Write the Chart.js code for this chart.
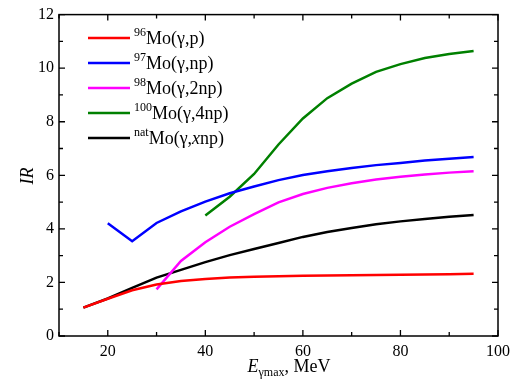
<!DOCTYPE html>
<html>
<head>
<meta charset="utf-8">
<script src="https://cdn.jsdelivr.net/npm/chart.js@4.4.1/dist/chart.umd.min.js"></script>
<style>
html, body { margin: 0; padding: 0; background: #fff; }
#wrap { width: 517px; height: 381px; }
</style>
</head>
<body>
<div id="wrap"><canvas id="irChart"></canvas></div>
<script>
// photon end-point energy, MeV
const energy = [15, 20, 25, 30, 35, 40, 45, 50, 55, 60, 65, 70, 75, 80, 85, 90, 95];

const irMo96  = [1.06, 1.39, 1.71, 1.92, 2.05, 2.13, 2.18, 2.21, 2.23, 2.25, 2.26, 2.27, 2.28, 2.29, 2.30, 2.31, 2.32];
const irMo97  = [null, 4.21, 3.54, 4.22, 4.65, 5.02, 5.33, 5.58, 5.82, 6.01, 6.15, 6.27, 6.38, 6.46, 6.55, 6.62, 6.68];
const irMo98  = [null, null, null, 1.74, 2.80, 3.50, 4.08, 4.55, 4.99, 5.30, 5.53, 5.70, 5.84, 5.95, 6.03, 6.10, 6.15];
const irMo100 = [null, null, null, null, null, 4.50, 5.20, 6.05, 7.15, 8.12, 8.88, 9.42, 9.86, 10.15, 10.38, 10.53, 10.64];
const irMoNat = [1.06, 1.40, 1.80, 2.18, 2.47, 2.76, 3.02, 3.25, 3.47, 3.70, 3.88, 4.03, 4.17, 4.28, 4.37, 4.45, 4.52];

const massLabels = ['96', '97', '98', '100', 'nat'];
const reactionLabels = ['p', 'np', '2np', '4np', 'xnp'];
const seriesColors = ['#ff0000', '#0000ff', '#ff00ff', '#008000', '#000000'];

const SERIF = '"Liberation Serif", "DejaVu Serif", serif';

function toPoints(arr) {
    var pts = [];
    for (var i = 0; i < energy.length; i++) {
        if (arr[i] !== null) pts.push({x: energy[i], y: arr[i]});
    }
    return pts;
}

// draws a run of text pieces with their own fonts / vertical offsets
function drawRich(ctx, x, y, parts) {
    parts.forEach(function(p) {
        ctx.font = p.font;
        ctx.fillText(p.text, x, y + (p.dy || 0));
        x += ctx.measureText(p.text).width;
    });
    return x;
}

function richWidth(ctx, parts) {
    var w = 0;
    parts.forEach(function(p) {
        ctx.font = p.font;
        w += ctx.measureText(p.text).width;
    });
    return w;
}

const framePlugin = {
    id: 'frame',
    afterDraw(chart) {
        const ctx = chart.ctx;
        const a = chart.chartArea;
        const xs = chart.scales.x, ys = chart.scales.y;
        ctx.save();
        ctx.strokeStyle = '#000';
        ctx.lineWidth = 1.3;

        // inward ticks on all four sides
        xs.ticks.forEach(function(t) {
            var px = xs.getPixelForValue(t.value);
            var len = (t.value % 20 === 0) ? 6 : 4;
            ctx.beginPath();
            ctx.moveTo(px, a.bottom); ctx.lineTo(px, a.bottom - len);
            ctx.moveTo(px, a.top); ctx.lineTo(px, a.top + len);
            ctx.stroke();
        });
        ys.ticks.forEach(function(t) {
            var py = ys.getPixelForValue(t.value);
            var len = (t.value % 2 === 0) ? 6 : 4;
            ctx.beginPath();
            ctx.moveTo(a.left, py); ctx.lineTo(a.left + len, py);
            ctx.moveTo(a.right, py); ctx.lineTo(a.right - len, py);
            ctx.stroke();
        });

        ctx.lineWidth = 1.5;
        ctx.strokeRect(a.left, a.top, a.right - a.left, a.bottom - a.top);

        // legend
        ctx.fillStyle = '#000';
        ctx.textBaseline = 'alphabetic';
        ctx.textAlign = 'left';
        chart.data.datasets.forEach(function(ds, i) {
            var y = 38 + i * 25;
            ctx.strokeStyle = ds.borderColor;
            ctx.lineWidth = 2.5;
            ctx.beginPath();
            ctx.moveTo(88, y); ctx.lineTo(130, y);
            ctx.stroke();

            var r = reactionLabels[i];
            var parts = [
                {text: massLabels[i], font: '12px ' + SERIF, dy: -2},
                {text: 'Mo(\u03b3,', font: '18px ' + SERIF, dy: 6}
            ];
            if (r.charAt(0) === 'x') {
                parts.push({text: 'x', font: 'italic 18px ' + SERIF, dy: 6});
                r = r.slice(1);
            }
            parts.push({text: r + ')', font: '18px ' + SERIF, dy: 6});
            drawRich(ctx, 134, y, parts);
        });

        // x axis title
        var xt = [
            {text: 'E', font: 'italic 18px ' + SERIF},
            {text: '\u03b3max', font: '12px ' + SERIF, dy: 4},
            {text: ', MeV', font: '18px ' + SERIF}
        ];
        drawRich(ctx, 289 - richWidth(ctx, xt) / 2, 372, xt);

        // y axis title
        ctx.translate(33, 176);
        ctx.rotate(-Math.PI / 2);
        ctx.font = 'italic 18px ' + SERIF;
        ctx.textAlign = 'center';
        ctx.fillText('IR', 0, 0);
        ctx.restore();
    }
};

const datasets = [irMo96, irMo97, irMo98, irMo100, irMoNat].map(function(arr, i) {
    return {
        label: massLabels[i] + 'Mo(\u03b3,' + reactionLabels[i] + ')',
        data: toPoints(arr),
        borderColor: seriesColors[i],
        backgroundColor: seriesColors[i],
        borderWidth: 2.5,
        pointRadius: 0,
        fill: false,
        tension: 0
    };
});

new Chart('irChart', {
    type: 'line',
    data: {datasets: datasets},
    options: {
        responsive: true,
        maintainAspectRatio: false,
        animation: false,
        layout: {padding: {top: 9, right: 19, left: 0, bottom: 0}},
        plugins: {
            legend: {display: false},
            tooltip: {enabled: false}
        },
        scales: {
            x: {
                type: 'linear',
                min: 10,
                max: 100,
                grid: {display: false, drawTicks: false},
                border: {display: false},
                ticks: {
                    stepSize: 10,
                    autoSkip: false,
                    maxRotation: 0,
                    padding: 6,
                    color: '#000',
                    font: {family: SERIF, size: 16},
                    callback: (v) => (v % 20 === 0 ? v : '')
                },
                afterFit: (s) => { s.height = 45; }
            },
            y: {
                min: 0,
                max: 12,
                grid: {display: false, drawTicks: false},
                border: {display: false},
                ticks: {
                    stepSize: 1,
                    autoSkip: false,
                    padding: 5,
                    color: '#000',
                    font: {family: SERIF, size: 16},
                    callback: (v) => (v % 2 === 0 ? v : '')
                },
                afterFit: (s) => { s.width = 59; }
            }
        }
    },
    plugins: [framePlugin]
});
</script>
</body>
</html>
